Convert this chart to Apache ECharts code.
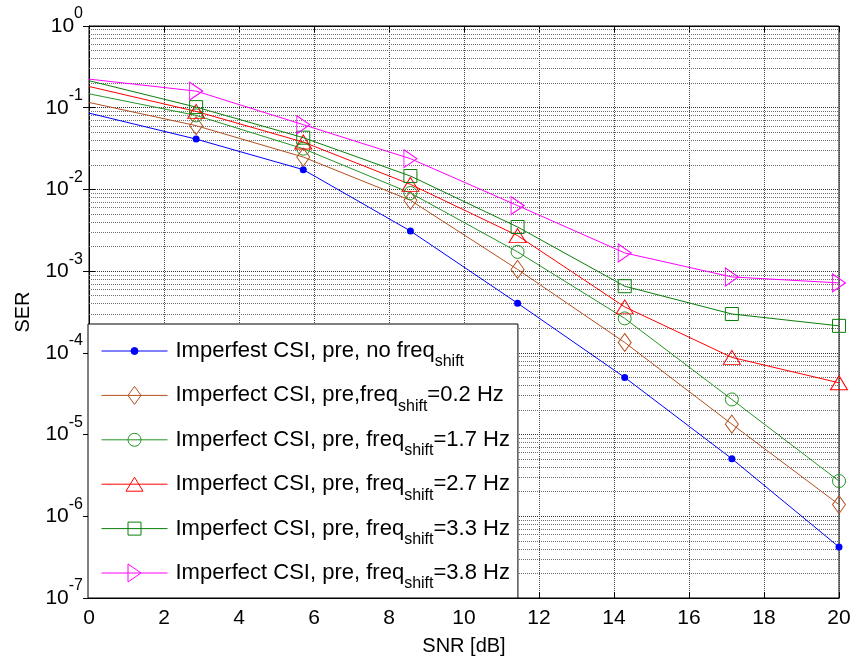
<!DOCTYPE html>
<html>
<head>
<meta charset="utf-8">
<script src="https://cdn.jsdelivr.net/npm/echarts@6/dist/echarts.min.js"></script>
<style>
html,body{margin:0;padding:0;background:#fff;}
#chart{width:855px;height:665px;}
</style>
</head>
<body>
<div id="chart"></div>
<script>
// SNR points [dB]
const snr = [0, 2.857, 5.714, 8.571, 11.429, 14.286, 17.143, 20];

// SER values per curve
const serNoShift = [0.0859, 0.0413, 0.01746, 0.0031, 4.05e-4, 5.0e-5, 5.06e-6, 4.21e-7];
const ser02Hz   = [0.116, 0.0603, 0.0249, 0.00736, 0.00105, 1.34e-4, 1.34e-5, 1.39e-6];
const ser17Hz   = [0.148, 0.0805, 0.0315, 0.00904, 0.00172, 2.64e-4, 2.69e-5, 2.70e-6];
const ser27Hz   = [0.182, 0.0901, 0.0380, 0.01154, 0.00272, 3.65e-4, 8.8e-5, 4.30e-5];
const ser33Hz   = [0.214, 0.1017, 0.0430, 0.01459, 0.00347, 6.54e-4, 2.99e-4, 2.14e-4];
const ser38Hz   = [0.224, 0.1596, 0.0620, 0.0238, 0.00634, 0.00167, 8.49e-4, 7.18e-4];

// legend text pieces: prefix, subscript, suffix
const legendPre  = ['Imperfest CSI, pre, no freq', 'Imperfect CSI, pre,freq', 'Imperfect CSI, pre, freq', 'Imperfect CSI, pre, freq', 'Imperfect CSI, pre, freq', 'Imperfect CSI, pre, freq'];
const legendSub  = ['shift', 'shift', 'shift', 'shift', 'shift', 'shift'];
const legendPost = ['', '=0.2 Hz', '=1.7 Hz', '=2.7 Hz', '=3.3 Hz', '=3.8 Hz'];

// axis ticks
const xTicks = [0, 2, 4, 6, 8, 10, 12, 14, 16, 18, 20];
const yMinExp = -7, yMaxExp = 0;

const FONT = 'Liberation Sans, Arial, Helvetica, sans-serif';

const styles = [
  {color:'#0000ff', symbol:'circle', size:7, filled:true, rotate:0,
   icon:'path://M0,0M66,18M0,9L66,9M29.5,9A3.5,3.5,0,1,0,36.5,9A3.5,3.5,0,1,0,29.5,9Z'},
  {color:'#b4501e', symbol:'diamond', size:[13,18], filled:false, rotate:0,
   icon:'path://M0,0M66,18M0,9L66,9M26.5,9L33,0L39.5,9L33,18Z'},
  {color:'#259525', symbol:'circle', size:13, filled:false, rotate:0,
   icon:'path://M0,0M66,18M0,9L66,9M26.5,9A6.5,6.5,0,1,0,39.5,9A6.5,6.5,0,1,0,26.5,9Z'},
  {color:'#ff0000', symbol:'triangle', size:[17,14], filled:false, rotate:0,
   icon:'path://M0,0M66,18M0,9L66,9M24.5,16L33,2L41.5,16Z'},
  {color:'#0a7f0a', symbol:'rect', size:13, filled:false, rotate:0,
   icon:'path://M0,0M66,18M0,9L66,9M26.5,2.5L39.5,2.5L39.5,15.5L26.5,15.5Z'},
  {color:'#ff00ff', symbol:'triangle', size:[18,13], filled:false, rotate:-90,
   icon:'path://M0,0M66,18M0,9L66,9M26.5,0L39.5,9L26.5,18Z'}
];
const allSer = [serNoShift, ser02Hz, ser17Hz, ser27Hz, ser33Hz, ser38Hz];
const names = legendPre.map((p,i)=>p + legendSub[i] + legendPost[i]);

// minor grid values (2..9 per decade)
const minorVals = [];
for (let e = yMinExp; e < yMaxExp; e++) {
  for (let k = 2; k <= 9; k++) minorVals.push(k * Math.pow(10, e));
}

const series = allSer.map((vals, i) => {
  const s = styles[i];
  const data = vals.map((v, j) => j === 0 ? {value:[snr[j], v], symbol:'none'} : [snr[j], v]);
  const obj = {
    name: names[i],
    type: 'line',
    data: data,
    symbol: s.symbol,
    symbolSize: s.size,
    symbolRotate: s.rotate,
    showAllSymbol: true,
    lineStyle: {color: s.color, width: 1},
    itemStyle: s.filled ? {color: s.color, borderColor: s.color, borderWidth: 0}
                        : {color: 'rgba(0,0,0,0)', borderColor: s.color, borderWidth: 1},
    emphasis: {disabled: true},
    animation: false,
    z: 3 + i
  };
  if (i === 0) {
    obj.markLine = {
      silent: true,
      precision: 12,
      symbol: ['none','none'],
      label: {show:false},
      lineStyle: {color:'#6e6e6e', type:[1,1], width:1},
      emphasis: {disabled:true},
      animation: false,
      z: 1,
      data: minorVals.map(v => ({yAxis: v}))
    };
  }
  return obj;
});

const legendData = names.map((n, i) => {
  const s = styles[i];
  return {
    name: n,
    icon: styles[i].icon,
    itemStyle: s.filled ? {color: s.color, borderColor: s.color, borderWidth: 1}
                        : {color: 'rgba(0,0,0,0)', borderColor: s.color, borderWidth: 1}
  };
});

const chart = echarts.init(document.getElementById('chart'), null, {renderer:'canvas'});
chart.setOption({
  backgroundColor: '#fff',
  animation: false,
  textStyle: {fontFamily: FONT, color:'#000'},
  grid: {left: 89, right: 16, top: 26, bottom: 67, show: true, borderColor:'#000', borderWidth: 1, backgroundColor:'#fff'},
  legend: {
    orient: 'vertical',
    left: 88, top: 324,
    data: legendData,
    itemWidth: 66, itemHeight: 18,
    itemGap: 6.4,
    padding: [8, 8, 6, 13],
    backgroundColor: '#fff',
    borderColor: '#000', borderWidth: 1,
    selectedMode: false,
    z: 20,
    textStyle: {
      fontFamily: FONT, color:'#000', padding:[0,0,0,3],
      rich: {
        a: {fontFamily: FONT, fontSize: 22, lineHeight: 22, verticalAlign:'middle', color:'#000'},
        s: {fontFamily: FONT, fontSize: 16, lineHeight: 16, padding:[22,0,0,0], verticalAlign:'middle', color:'#000'}
      }
    },
    formatter: function(name) {
      const i = names.indexOf(name);
      let str = '{a|' + legendPre[i] + '}{s|' + legendSub[i] + '}';
      if (legendPost[i]) str += '{a|' + legendPost[i] + '}';
      return str;
    }
  },
  xAxis: [{
    type: 'value', min: 0, max: 20, interval: 2,
    name: 'SNR [dB]', nameLocation: 'middle', nameGap: 38,
    nameTextStyle: {fontFamily: FONT, fontSize: 20, color:'#000'},
    axisLine: {show: true, onZero:false, lineStyle:{color:'#000', width:1}},
    axisTick: {show: true, inside: true, length: 6, lineStyle:{color:'#000'}},
    axisLabel: {fontFamily: FONT, fontSize: 21, color:'#000', margin: 10,
      customValues: xTicks},
    splitLine: {show: true, lineStyle: {color:'#444', type:[1,1], width:1}}
  }, {
    type: 'value', min: 0, max: 20, interval: 2, position: 'top',
    axisLine: {show: true, lineStyle:{color:'#000'}},
    axisTick: {show: true, inside: true, length: 6, lineStyle:{color:'#000'}},
    axisLabel: {show: false},
    splitLine: {show: false}
  }],
  yAxis: [{
    type: 'log', logBase: 10,
    min: Math.pow(10, yMinExp), max: Math.pow(10, yMaxExp),
    splitNumber: 7,
    name: 'SER', nameLocation: 'middle', nameGap: 56,
    nameTextStyle: {fontFamily: FONT, fontSize: 20, color:'#000'},
    axisLine: {show: true, lineStyle:{color:'#000', width:1}},
    axisTick: {show: true, inside: true, length: 6, lineStyle:{color:'#000'}},
    axisLabel: {
      margin: 6,
      formatter: function(v) {
        const e = Math.round(Math.log10(v));
        return '{b|10}{e|' + e + '}';
      },
      rich: {
        b: {fontFamily: FONT, fontSize: 21, lineHeight: 22, verticalAlign:'middle', color:'#000'},
        e: {fontFamily: FONT, fontSize: 16, lineHeight: 16, padding:[0,0,24,0], verticalAlign:'middle', color:'#000'}
      }
    },
    splitLine: {show: true, lineStyle: {color:'#333', type:[1,1], width:1}}
  }, {
    type: 'log', logBase: 10, position: 'right',
    min: Math.pow(10, yMinExp), max: Math.pow(10, yMaxExp),
    splitNumber: 7,
    axisLine: {show: true, lineStyle:{color:'#000'}},
    axisTick: {show: true, inside: true, length: 6, lineStyle:{color:'#000'}},
    axisLabel: {show: false},
    splitLine: {show: false}
  }],
  series: series
});
</script>
</body>
</html>
